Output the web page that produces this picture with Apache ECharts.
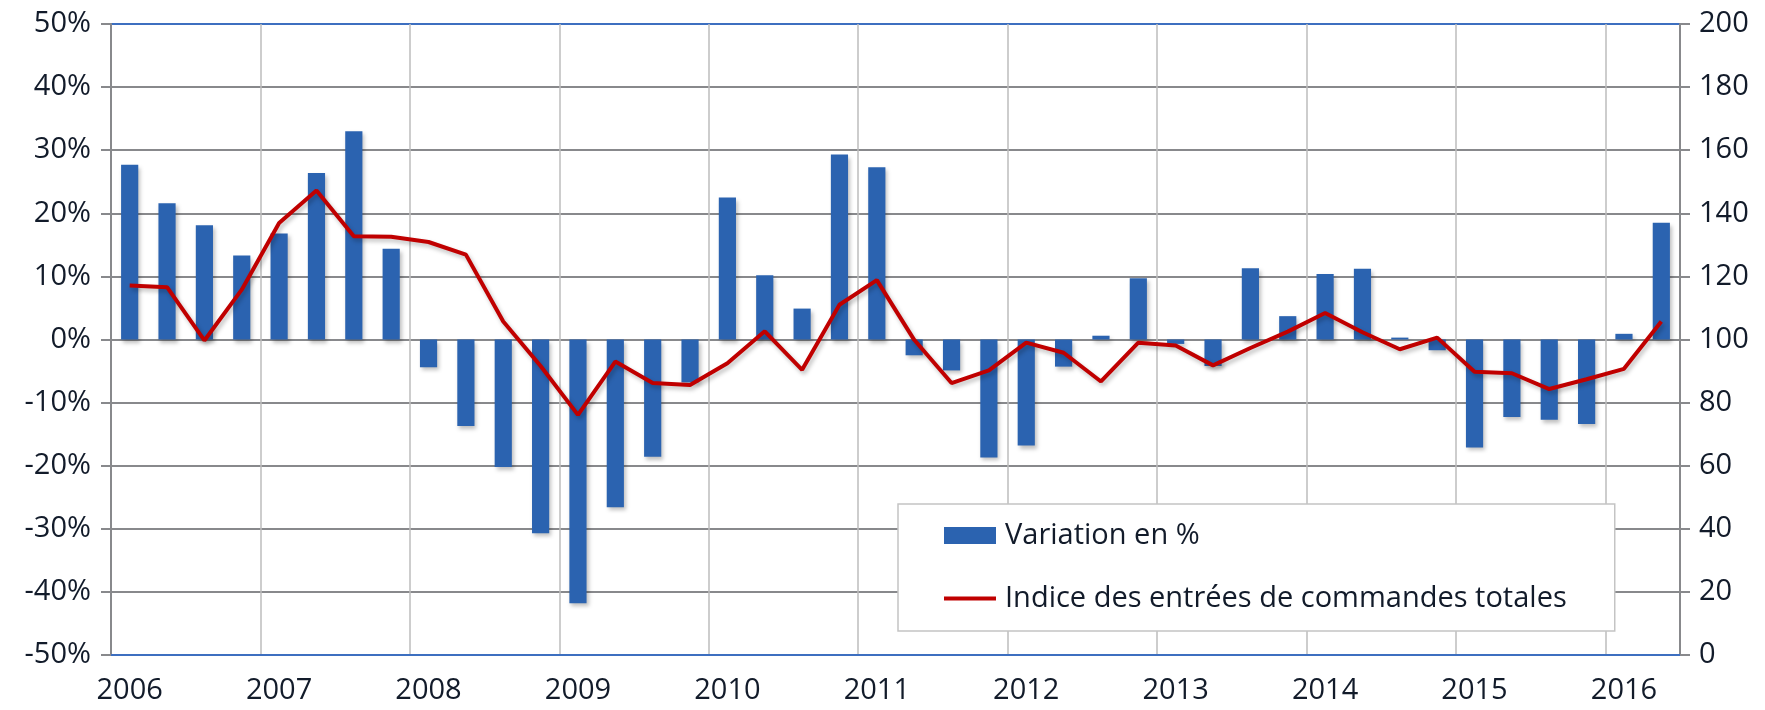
<!DOCTYPE html>
<html>
<head>
<meta charset="utf-8">
<script src="https://cdn.jsdelivr.net/npm/echarts@6/dist/echarts.min.js"></script>
<style>
html,body{margin:0;padding:0;background:#fff;}
#chart{width:1765px;height:710px;}
</style>
</head>
<body>
<div id="chart"></div>
<script>
// Quarterly categories 2006 T1 .. 2016 T2
const years = ['2006','2007','2008','2009','2010','2011','2012','2013','2014','2015','2016'];
const quarters = [];
years.forEach(y => { for (let q = 1; q <= 4; q++) { if (y === '2016' && q > 2) break; quarters.push(y + '-T' + q); } });

const seriesNames = ['Variation en %', 'Indice des entrées de commandes totales'];

// Variation en % (left axis)
const variation = [
  27.7, 21.6, 18.1, 13.3,
  16.8, 26.4, 33.0, 14.4,
  -4.4, -13.7, -20.2, -30.7,
  -41.8, -26.6, -18.6, -6.8,
  22.5, 10.2, 4.9, 29.3,
  27.3, -2.5, -4.9, -18.7,
  -16.8, -4.3, 0.6, 9.7,
  -0.7, -4.2, 11.3, 3.7,
  10.4, 11.2, 0.3, -1.7,
  -17.1, -12.3, -12.7, -13.4,
  0.9, 18.5
];

// Indice des entrées de commandes totales (right axis)
const indice = [
  117.1, 116.6, 99.7, 115.8,
  136.9, 147.2, 132.7, 132.6,
  130.9, 126.9, 105.7, 91.6,
  76.1, 93.0, 86.2, 85.6,
  92.5, 102.6, 90.4, 111.0,
  118.8, 99.9, 86.2, 90.2,
  99.0, 95.8, 86.7, 99.0,
  98.1, 91.8, 97.3, 102.5,
  108.4, 102.3, 96.9, 100.6,
  89.8, 89.3, 84.3, 87.4,
  90.7, 105.7
];

// Left axis tick values (%)
const leftTickValues = [-50, -40, -30, -20, -10, 0, 10, 20, 30, 40, 50];
// Right axis tick values
const rightTickValues = [0, 20, 40, 60, 80, 100, 120, 140, 160, 180, 200];

const FONT = '"Open Sans", "Noto Sans", sans-serif';
const FS = 29;
const TXT = '#121b2a';
const GRID_H = '#88898c';
const GRID_V = '#bdbdbd';
const BLUE_AX = '#3d6fc0';
const BAR = '#2b63b0';
const LINE = '#c00000';

// colour of each horizontal gridline: top one (50 %) is blue like the category axis
const hLineColors = leftTickValues.map((v, i) => (i === leftTickValues.length - 1 ? BLUE_AX : GRID_H));

const chart = echarts.init(document.getElementById('chart'));
chart.setOption({
  animation: false,
  grid: { left: 111, right: 85, top: 24, bottom: 55 },
  legend: {
    orient: 'vertical',
    left: 898, top: 504,
    padding: [17, 48, 18, 46],
    backgroundColor: '#ffffff',
    borderColor: '#c4c4c4',
    borderWidth: 1.5,
    itemWidth: 52, itemHeight: 17, itemGap: 34,
    textStyle: { fontFamily: FONT, fontSize: FS, color: TXT, padding: [0, 0, 0, 4] },
    data: [
      { name: seriesNames[0], icon: 'rect', itemStyle: { color: BAR } },
      { name: seriesNames[1], icon: 'path://M0,0h52v4h-52z', itemStyle: { color: LINE } }
    ]
  },
  xAxis: [
    {
      type: 'category',
      data: quarters,
      axisLine: { onZero: false, lineStyle: { color: BLUE_AX, width: 2 } },
      axisTick: { show: false },
      axisLabel: {
        interval: 3,
        margin: 21,
        fontSize: FS,
        color: TXT,
        fontFamily: FONT,
        formatter: v => v.slice(0, 4)
      },
      splitLine: {
        show: true,
        interval: i => i % 4 === 0,
        lineStyle: { color: GRID_V, width: 1.5 }
      }
    }
  ],
  yAxis: [
    {
      type: 'value',
      min: leftTickValues[0], max: leftTickValues[leftTickValues.length - 1],
      interval: leftTickValues[1] - leftTickValues[0],
      axisLine: { show: true, lineStyle: { color: GRID_H, width: 2 } },
      axisTick: { show: true, length: 10, lineStyle: { color: GRID_H, width: 2 } },
      axisLabel: { margin: 20, fontSize: FS, color: TXT, fontFamily: FONT, formatter: '{value}%' },
      splitLine: { show: true, lineStyle: { color: hLineColors, width: 2 } }
    },
    {
      type: 'value',
      min: rightTickValues[0], max: rightTickValues[rightTickValues.length - 1],
      interval: rightTickValues[1] - rightTickValues[0],
      axisLine: { show: true, lineStyle: { color: GRID_H, width: 2 } },
      axisTick: { show: true, length: 10, lineStyle: { color: GRID_H, width: 2 } },
      axisLabel: { margin: 19, fontSize: FS, color: TXT, fontFamily: FONT },
      splitLine: { show: false }
    }
  ],
  series: [
    {
      name: seriesNames[0],
      type: 'bar',
      yAxisIndex: 0,
      data: variation,
      barWidth: '46%',
      itemStyle: {
        color: BAR,
        shadowColor: 'rgba(0,0,0,0.25)', shadowBlur: 4, shadowOffsetX: 2, shadowOffsetY: 3
      }
    },
    {
      name: seriesNames[1],
      type: 'line',
      yAxisIndex: 1,
      data: indice,
      symbol: 'none',
      lineStyle: {
        color: LINE, width: 4,
        shadowColor: 'rgba(0,0,0,0.25)', shadowBlur: 4, shadowOffsetX: 2, shadowOffsetY: 3
      },
      itemStyle: { color: LINE }
    }
  ]
});
</script>
</body>
</html>
